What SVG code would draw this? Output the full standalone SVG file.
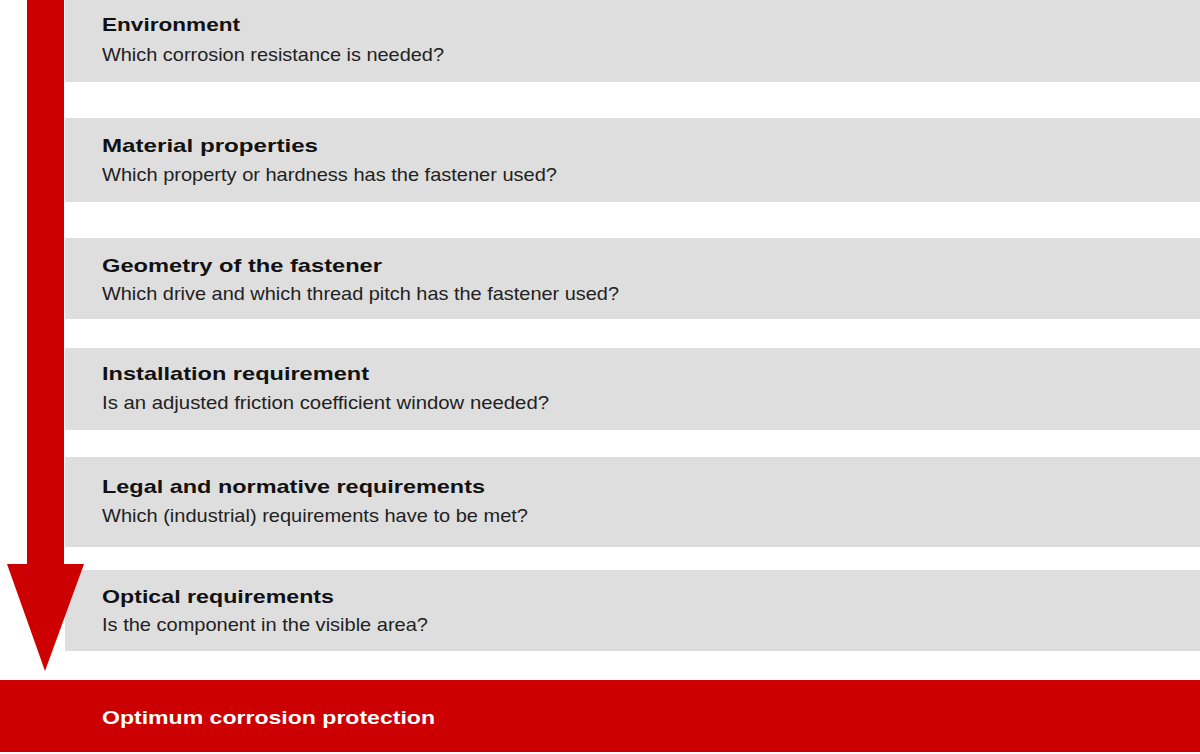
<svg xmlns="http://www.w3.org/2000/svg" width="1200" height="754" viewBox="0 0 1200 754">
<style>
.band{fill:#dedede}
.t{font-family:"Liberation Sans",Arial,sans-serif;font-weight:bold;font-size:19px;fill:#111}
.s{font-family:"Liberation Sans",Arial,sans-serif;font-size:18.5px;fill:#222}
.w{font-family:"Liberation Sans",Arial,sans-serif;font-weight:bold;font-size:19px;fill:#fff}
.red{fill:#cc0000}
</style>
<rect width="1200" height="754" fill="#fff"/>
<g id="n1"><rect class="band" x="65" y="0" width="1135" height="82"/>
<text class="t" x="102" y="31" textLength="138" lengthAdjust="spacingAndGlyphs">Environment</text>
<text class="s" x="102" y="61" textLength="342" lengthAdjust="spacingAndGlyphs">Which corrosion resistance is needed?</text></g>
<g id="n2"><rect class="band" x="65" y="118" width="1135" height="84"/>
<text class="t" x="102" y="152" textLength="216" lengthAdjust="spacingAndGlyphs">Material properties</text>
<text class="s" x="102" y="181" textLength="455" lengthAdjust="spacingAndGlyphs">Which property or hardness has the fastener used?</text></g>
<g id="n3"><rect class="band" x="65" y="238" width="1135" height="81"/>
<text class="t" x="102" y="272" textLength="280" lengthAdjust="spacingAndGlyphs">Geometry of the fastener</text>
<text class="s" x="102" y="300" textLength="517" lengthAdjust="spacingAndGlyphs">Which drive and which thread pitch has the fastener used?</text></g>
<g id="n4"><rect class="band" x="65" y="348" width="1135" height="82"/>
<text class="t" x="102" y="380" textLength="267" lengthAdjust="spacingAndGlyphs">Installation requirement</text>
<text class="s" x="102" y="409" textLength="447" lengthAdjust="spacingAndGlyphs">Is an adjusted friction coefficient window needed?</text></g>
<g id="n5"><rect class="band" x="65" y="457" width="1135" height="90"/>
<text class="t" x="102" y="493" textLength="383" lengthAdjust="spacingAndGlyphs">Legal and normative requirements</text>
<text class="s" x="102" y="522" textLength="426" lengthAdjust="spacingAndGlyphs">Which (industrial) requirements have to be met?</text></g>
<g id="n6"><rect class="band" x="65" y="570" width="1135" height="81"/>
<text class="t" x="102" y="603" textLength="232" lengthAdjust="spacingAndGlyphs">Optical requirements</text>
<text class="s" x="102" y="631" textLength="326" lengthAdjust="spacingAndGlyphs">Is the component in the visible area?</text></g>
<g id="connectors">
<rect class="red" x="27" y="0" width="37" height="565"/>
<polygon class="red" points="7,564 84,564 45,671"/>
</g>
<g id="n7"><rect class="red" x="0" y="680" width="1200" height="72"/>
<text class="w" x="102" y="724" textLength="333" lengthAdjust="spacingAndGlyphs">Optimum corrosion protection</text></g>
</svg>
